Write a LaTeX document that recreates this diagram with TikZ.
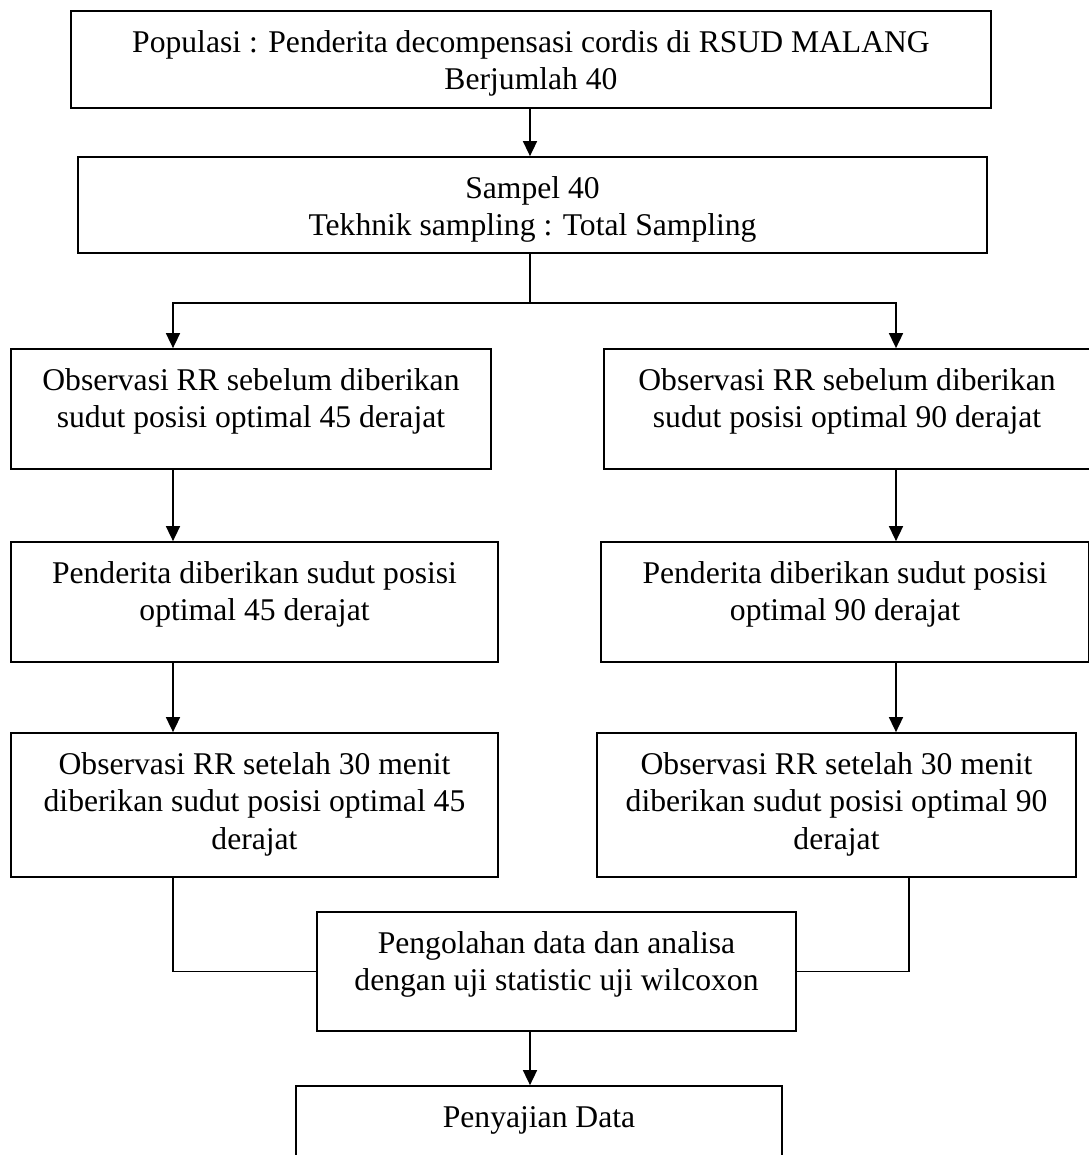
\documentclass[tikz,border=0pt]{standalone}
\usepackage{fontspec}
\setmainfont{Liberation Serif}
\usepackage{tikz}
\usetikzlibrary{arrows.meta}
\tikzset{
    flow-box/.style = {draw=black, line width=1pt, rectangle, inner sep=0pt, fill=white, font=\fontsize{18}{21.5}\selectfont},
    flow-line/.style = {draw=black, line width=0.9pt},
    flow-arrow/.style = {flow-line, -{Triangle[length=0.3cm, width=0.28cm]}},
}

\begin{document}
\begin{tikzpicture}[x=0.02cm, y=-0.02cm]
\useasboundingbox (0,0) rectangle (1088,1155);

% top of the flow
\node [flow-box] (populasi) at (531,59.5) {\begin{minipage}[c][1.94cm][t]{18.4cm}\centering
    \vspace*{8.3pt}\strut Populasi : Penderita decompensasi cordis di RSUD MALANG\\
    Berjumlah 40
\end{minipage}};
\node [flow-box] (sampel) at (532.5,205) {\begin{minipage}[c][1.92cm][t]{18.18cm}\centering
    \vspace*{8.3pt}\strut Sampel 40\\
    Tekhnik sampling : Total Sampling
\end{minipage}};

% left branch
\node [flow-box] (obs-pre-45) at (251,409) {\begin{minipage}[c][2.4cm][t]{9.6cm}\centering
    \vspace*{8.3pt}\strut Observasi RR sebelum diberikan\\
    sudut posisi optimal 45 derajat
\end{minipage}};
\node [flow-box] (posisi-45) at (254.5,602) {\begin{minipage}[c][2.4cm][t]{9.74cm}\centering
    \vspace*{8.3pt}\strut Penderita diberikan sudut posisi\\
    optimal 45 derajat
\end{minipage}};
\node [flow-box] (obs-post-45) at (254.5,805) {\begin{minipage}[c][2.88cm][t]{9.74cm}\centering
    \vspace*{8.3pt}\strut Observasi RR setelah 30 menit\\
    diberikan sudut posisi optimal 45\\
    derajat
\end{minipage}};

% right branch
\node [flow-box] (obs-pre-90) at (847,409) {\begin{minipage}[c][2.4cm][t]{9.72cm}\centering
    \vspace*{8.3pt}\strut Observasi RR sebelum diberikan\\
    sudut posisi optimal 90 derajat
\end{minipage}};
\node [flow-box] (posisi-90) at (845,602) {\begin{minipage}[c][2.4cm][t]{9.76cm}\centering
    \vspace*{8.3pt}\strut Penderita diberikan sudut posisi\\
    optimal 90 derajat
\end{minipage}};
\node [flow-box] (obs-post-90) at (836.5,805) {\begin{minipage}[c][2.88cm][t]{9.58cm}\centering
    \vspace*{8.3pt}\strut Observasi RR setelah 30 menit\\
    diberikan sudut posisi optimal 90\\
    derajat
\end{minipage}};

% bottom of the flow
\node [flow-box] (pengolahan) at (556.5,971.5) {\begin{minipage}[c][2.38cm][t]{9.58cm}\centering
    \vspace*{8.3pt}\strut Pengolahan data dan analisa\\
    dengan uji statistic uji wilcoxon
\end{minipage}};
\node [flow-box] (penyajian) at (539,1161) {\begin{minipage}[c][3cm][t]{9.72cm}\centering
    \vspace*{8.3pt}\strut Penyajian Data
\end{minipage}};

\coordinate (fork) at (530,303);
\coordinate (left-col) at (173,0);
\coordinate (right-col) at (896,0);
\coordinate (right-out) at (909,0);

\draw [flow-arrow] (fork |- populasi.south) -- (fork |- sampel.north);
\draw [flow-line] (fork |- sampel.south) -- (fork);
\draw [flow-arrow] (fork) -| (left-col |- obs-pre-45.north);
\draw [flow-arrow] (fork) -| (right-col |- obs-pre-90.north);

\draw [flow-arrow] (left-col |- obs-pre-45.south) -- (left-col |- posisi-45.north);
\draw [flow-arrow] (left-col |- posisi-45.south) -- (left-col |- obs-post-45.north);
\draw [flow-arrow] (right-col |- obs-pre-90.south) -- (right-col |- posisi-90.north);
\draw [flow-arrow] (right-col |- posisi-90.south) -- (right-col |- obs-post-90.north);

\draw [flow-line] (left-col |- obs-post-45.south) |- (pengolahan.west);
\draw [flow-line] (right-out |- obs-post-90.south) |- (pengolahan.east);
\draw [flow-arrow] (fork |- pengolahan.south) -- (fork |- penyajian.north);
\end{tikzpicture}
\end{document}
